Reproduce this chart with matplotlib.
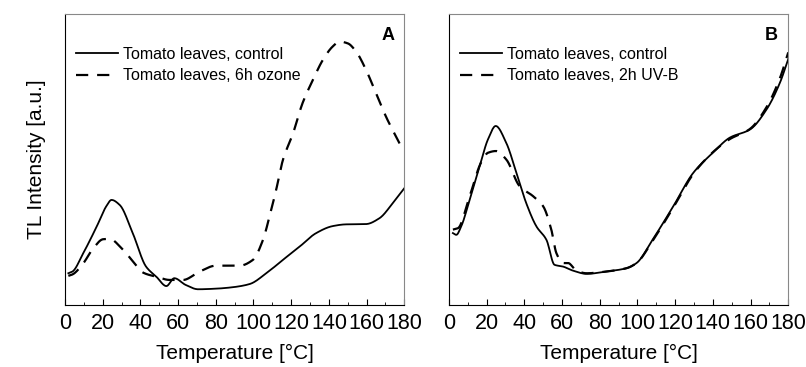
import numpy as np
import matplotlib.pyplot as plt
from matplotlib.ticker import MultipleLocator

plt.rcParams['font.family'] = ['Liberation Sans', 'DejaVu Sans']

# panel A: control vs 6h ozone (y in arbitrary units, 0-100 = axis height)
a_ctrl_t = [1.8, 4, 9.7, 16.8, 22, 24.7, 29, 36, 43, 48.5, 53.8, 58, 64, 70.6, 80, 89, 98,
            106.8, 115.6, 124.4, 133, 142, 149, 159.7, 166.8, 173.8, 180]
a_ctrl_y = [10.9, 11.5, 17.8, 26.9, 34.0, 36.1, 34.4, 24.6, 13.2, 9.7, 6.5, 9.2, 6.9, 5.4, 5.6, 6.1, 7.2,
            10.9, 15.5, 20.0, 24.6, 27.1, 27.7, 27.8, 29.8, 34.9, 40.1]
a_oz_t = [1.8, 4, 9.7, 15, 20.3, 23.8, 30, 36.2, 41.5, 48.5, 55.6, 62.6, 71.5, 80, 92.6, 99.7,
          105, 108.5, 112, 115.6, 121, 126, 131.5, 136.8, 142, 145.6, 150, 154.4, 159.7, 165,
          170.3, 177.5]
a_oz_y = [10.0, 10.5, 14.3, 19.5, 22.6, 22.7, 19.5, 14.9, 11.1, 9.7, 8.6, 8.6, 11.5, 13.5, 13.5, 15.5,
          22.3, 30.4, 39.5, 49.8, 59.0, 69.3, 77.3, 84.2, 88.8, 90.5, 89.9, 87.1, 80.8, 72.7,
          64.7, 55.5]

# panel B: control vs 2h UV-B
b_ctrl_t = [2.1, 3.9, 6.5, 11, 16.3, 20.7, 24.8, 30.4, 35.8, 41, 46.4, 51.7, 56, 60.5, 65.8, 73,
            83.5, 94, 99.5, 108, 119, 129.6, 140, 149, 159.7, 168.5, 175.6, 180]
b_ctrl_y = [24.7, 24.1, 27.0, 36.2, 47.7, 56.9, 61.5, 55.7, 45.4, 35.0, 27.0, 22.4, 13.8, 13.2, 11.8, 10.7,
            11.5, 12.6, 14.4, 22.4, 33.9, 45.4, 52.3, 57.5, 60.3, 67.2, 76.4, 84.5]
b_uv_t = [2.1, 4.8, 11, 17, 20.7, 25, 30.4, 37.5, 44.6, 50, 54.3, 57, 60.5, 63.2, 67.6, 73,
          83.5, 94, 99.5, 108, 119, 129.6, 140, 149, 159.7, 168.5, 175.6, 180]
b_uv_y = [25.9, 26.4, 37.4, 48.9, 52.3, 52.9, 50.0, 40.8, 37.4, 33.9, 25.9, 17.8, 14.4, 14.4, 11.8, 10.9,
          11.5, 12.6, 14.4, 22.0, 33.5, 45.0, 52.5, 57.0, 60.5, 68.0, 78.0, 86.8]

panels = [
    ('A', a_ctrl_t, a_ctrl_y, a_oz_t, a_oz_y, 'Tomato leaves, 6h ozone'),
    ('B', b_ctrl_t, b_ctrl_y, b_uv_t, b_uv_y, 'Tomato leaves, 2h UV-B'),
]
xticks = np.arange(0, 181, 20)


def pchip(x, y, n=500):
    # monotone cubic hermite, just to draw the read-off points as a smooth trace
    x = np.asarray(x, float)
    y = np.asarray(y, float)
    h = np.diff(x)
    d = np.diff(y) / h
    m = np.zeros_like(y)
    for k in range(1, len(x) - 1):
        if d[k - 1] * d[k] > 0:
            w1 = 2 * h[k] + h[k - 1]
            w2 = h[k] + 2 * h[k - 1]
            m[k] = (w1 + w2) / (w1 / d[k - 1] + w2 / d[k])
    m[0], m[-1] = d[0], d[-1]
    xs = np.linspace(x[0], x[-1], n)
    i = np.clip(np.searchsorted(x, xs) - 1, 0, len(h) - 1)
    s = (xs - x[i]) / h[i]
    h00 = 2 * s**3 - 3 * s**2 + 1
    h10 = s**3 - 2 * s**2 + s
    h01 = -2 * s**3 + 3 * s**2
    h11 = s**3 - s**2
    ys = h00 * y[i] + h10 * h[i] * m[i] + h01 * y[i + 1] + h11 * h[i] * m[i + 1]
    return xs, ys


fig = plt.figure(figsize=(8.06, 3.67), dpi=100)
lefts = [0.0806, 0.557]

for left, (letter, ct, cy, tt, ty, lab) in zip(lefts, panels):
    ax = fig.add_axes([left, 0.169, 0.421, 0.793])
    ax.plot(*pchip(ct, cy), 'k-', lw=1.3, label='Tomato leaves, control')
    ax.plot(*pchip(tt, ty), 'k--', lw=1.6, dashes=(5.5, 4), label=lab)
    ax.set_xlim(0, 180)
    ax.set_ylim(0, 100)
    ax.set_xticks(xticks)
    ax.xaxis.set_minor_locator(MultipleLocator(10))
    ax.tick_params(axis='x', which='major', direction='in', length=4, labelsize=15.5, pad=6)
    ax.tick_params(axis='x', which='minor', direction='in', length=2)
    ax.set_yticks([])
    for s in ['top', 'right']:
        ax.spines[s].set_color('#888888')
        ax.spines[s].set_linewidth(0.8)
    ax.set_xlabel('Temperature [°C]', fontsize=15, labelpad=7)
    ax.text(0.97, 0.955, letter, transform=ax.transAxes, ha='right', va='top',
            fontsize=13, fontweight='bold')
    ax.legend(loc='upper left', bbox_to_anchor=(0.0, 0.925), frameon=False, fontsize=11.5,
              handlelength=2.6, handletextpad=0.35, labelspacing=0.4, borderaxespad=0.3)
    if letter == 'A':
        ax.set_ylabel('TL Intensity [a.u.]', fontsize=15, labelpad=14)

fig.savefig('out.png', dpi=100)
